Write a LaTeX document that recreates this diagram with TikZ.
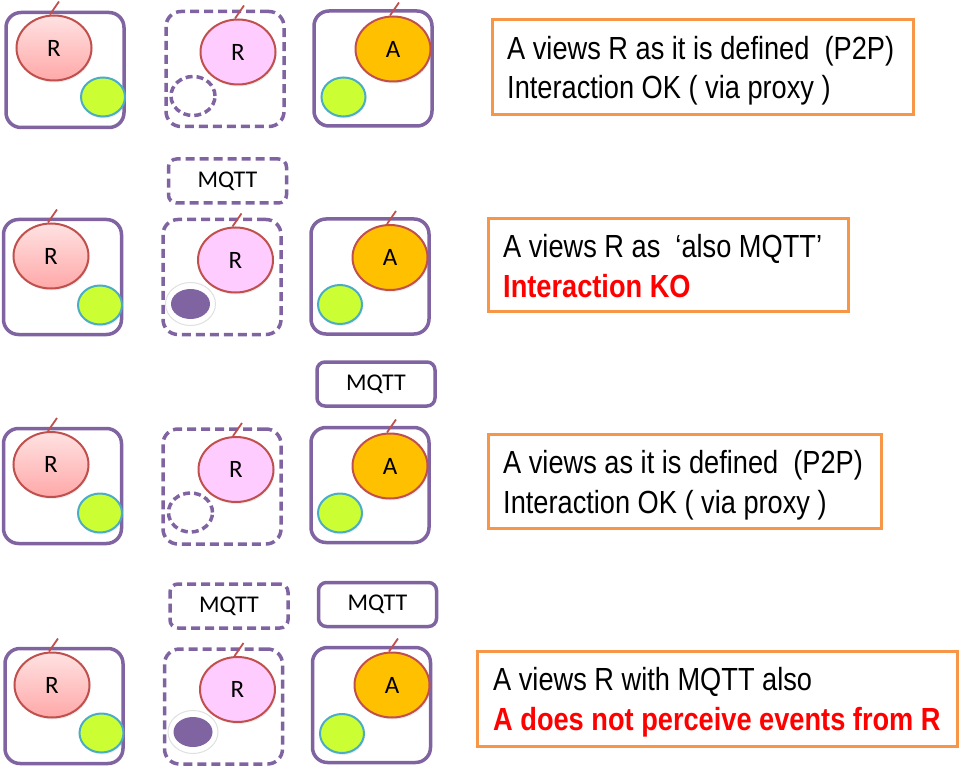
\documentclass[tikz,border=0pt]{standalone}
\usepackage{fontspec}
\newfontfamily\notefont[FakeStretch=0.85]{Liberation Sans}
\newfontfamily\labelfont{Carlito}
\usetikzlibrary{shapes.geometric,shadows}
\definecolor{boxpurple}{HTML}{8064A2}
\definecolor{noteorange}{HTML}{F79646}
\definecolor{resline}{HTML}{C0504D}
\definecolor{portline}{HTML}{4BACC6}
\definecolor{portfill}{HTML}{CCFF33}
\definecolor{goldfill}{HTML}{FFC000}
\definecolor{pinkfill}{HTML}{FFCCFF}
\definecolor{rtop}{HTML}{FFE2E2}
\definecolor{rbottom}{HTML}{FFA8A8}
\definecolor{kored}{HTML}{FF0000}
\begin{document}
\begin{tikzpicture}[x=1pt,y=-1pt,
    host/.style={draw=boxpurple,line width=3.5pt,rounded corners=15pt,
                 minimum width=118pt,minimum height=115pt},
    proxy/.style={host,dash pattern=on 9pt off 5pt},
    proto/.style={draw=boxpurple,line width=3.5pt,rounded corners=8pt,
                  minimum width=118pt,minimum height=44pt,
                  font=\labelfont\fontsize{24}{28}\selectfont},
    protoproxy/.style={proto,dash pattern=on 9pt off 5pt},
    res/.style={ellipse,draw=resline,line width=2pt,inner sep=0pt,
                minimum width=75pt,minimum height=65pt,
                drop shadow={shadow xshift=1pt,shadow yshift=-2pt,opacity=0.15},
                font=\labelfont\fontsize{25}{28}\selectfont},
    rnode/.style={res,top color=rtop,bottom color=rbottom},
    pnode/.style={res,fill=pinkfill},
    anode/.style={res,fill=goldfill},
    port/.style={ellipse,draw=portline,line width=2pt,fill=portfill,
                 minimum width=44pt,minimum height=39pt,
                 drop shadow={shadow xshift=1pt,shadow yshift=-2pt,opacity=0.15}},
    gap/.style={ellipse,draw=boxpurple,line width=3.5pt,dash pattern=on 7pt off 4pt,
                minimum width=44pt,minimum height=39pt},
    halo/.style={ellipse,fill=white,draw=black!12,line width=1pt,
                 minimum width=50pt,minimum height=43pt},
    mport/.style={ellipse,fill=boxpurple,minimum width=39pt,minimum height=30pt},
    tick/.style={draw=resline,line width=1.8pt},
    note/.style={draw=noteorange,line width=3.5pt},
    notetext/.style={anchor=base west,inner sep=0pt,
                     font=\notefont\fontsize{32}{39}\selectfont},
    kotext/.style={notetext,text=kored,font=\notefont\bfseries\fontsize{32}{39}\selectfont}
]
\useasboundingbox (0,0) rectangle (960,767);

% row 1
\node[host] (r1box) at (65,70) {};
\node[rnode] (r1) at (54,48) {R};
\node[port] (r1port) at (103,97) {};
\draw[tick] ([xshift=-4pt]r1.north) -- ++(9,-13);
\node[proxy] (p1box) at (225,69) {};
\node[pnode] (p1) at (238,52) {R};
\node[gap] (p1gap) at (193,96) {};
\draw[tick] ([xshift=-3pt]p1.north) -- ++(9,-13);
\node[host] (a1box) at (373,68.5) {};
\node[anode] (a1) at (393,49) {A};
\node[port] (a1port) at (343.5,97) {};
\draw[tick] ([xshift=-3pt]a1.north) -- ++(9,-13);
\node[note,minimum width=421pt,minimum height=95pt] (note1) at (703,67) {};
\node[notetext] (note1a) at (507,60) {A views R as it is defined\ \ (P2P)};
\node[notetext] (note1b) at (507,99) {Interaction OK ( via proxy )};

% row 2
\node[protoproxy] (mq2p) at (227.5,181) {MQTT};
\node[host] (r2box) at (62.5,277) {};
\node[rnode] (r2) at (51,256) {R};
\node[port] (r2port) at (100,305) {};
\draw[tick] ([xshift=-3pt]r2.north) -- ++(9,-13);
\node[proxy] (p2box) at (222,277) {};
\node[pnode] (p2) at (235.5,260) {R};
\node[halo] (p2halo) at (190.5,304) {};
\node[mport] (p2port) at (190.5,304) {};
\draw[tick] ([xshift=-3pt]p2.north) -- ++(9,-13);
\node[host] (a2box) at (370,276.5) {};
\node[anode] (a2) at (390,257.5) {A};
\node[port] (a2port) at (340,304.5) {};
\draw[tick] ([xshift=-3pt]a2.north) -- ++(9,-13);
\node[proto] (mq2a) at (376,384) {MQTT};
\node[note,minimum width=360pt,minimum height=93pt] (note2) at (668.5,265) {};
\node[notetext] (note2a) at (503,257) {A views R as\ \ ‘also MQTT’};
\node[kotext] (note2b) at (503,297) {Interaction KO};

% row 3
\node[host] (r3box) at (62.5,486) {};
\node[rnode] (r3) at (51,464.5) {R};
\node[port] (r3port) at (100,513) {};
\draw[tick] ([xshift=-3pt]r3.north) -- ++(9,-13);
\node[proxy] (p3box) at (222,486.5) {};
\node[pnode] (p3) at (236,469.5) {R};
\node[gap] (p3gap) at (190.5,512.5) {};
\draw[tick] ([xshift=-3pt]p3.north) -- ++(9,-13);
\node[host] (a3box) at (370,485) {};
\node[anode] (a3) at (390,466) {A};
\node[port] (a3port) at (340,513) {};
\draw[tick] ([xshift=-3pt]a3.north) -- ++(9,-13);
\node[note,minimum width=393pt,minimum height=94pt] (note3) at (685,481.5) {};
\node[notetext] (note3a) at (503,473) {A views as it is defined\ \ (P2P)};
\node[notetext] (note3b) at (503,513) {Interaction OK ( via proxy )};

% row 4
\node[protoproxy] (mq4p) at (229,606) {MQTT};
\node[proto] (mq4a) at (377.5,604.5) {MQTT};
\node[host] (r4box) at (64,706) {};
\node[rnode] (r4) at (52,685) {R};
\node[port] (r4port) at (101.5,733) {};
\draw[tick] ([xshift=-3pt]r4.north) -- ++(9,-13);
\node[proxy] (p4box) at (223.5,706.5) {};
\node[pnode] (p4) at (237.5,689.5) {R};
\node[halo] (p4halo) at (193,732) {};
\node[mport] (p4port) at (193,732) {};
\draw[tick] ([xshift=-3pt]p4.north) -- ++(9,-13);
\node[host] (a4box) at (371.5,705) {};
\node[anode] (a4) at (392,685) {A};
\node[port] (a4port) at (342,733.5) {};
\draw[tick] ([xshift=-3pt]a4.north) -- ++(9,-13);
\node[note,minimum width=480pt,minimum height=95pt] (note4) at (717.5,699) {};
\node[notetext] (note4a) at (493,690) {A views R with MQTT also};
\node[kotext] (note4b) at (493,730) {A does not perceive events from R};
\end{tikzpicture}
\end{document}
